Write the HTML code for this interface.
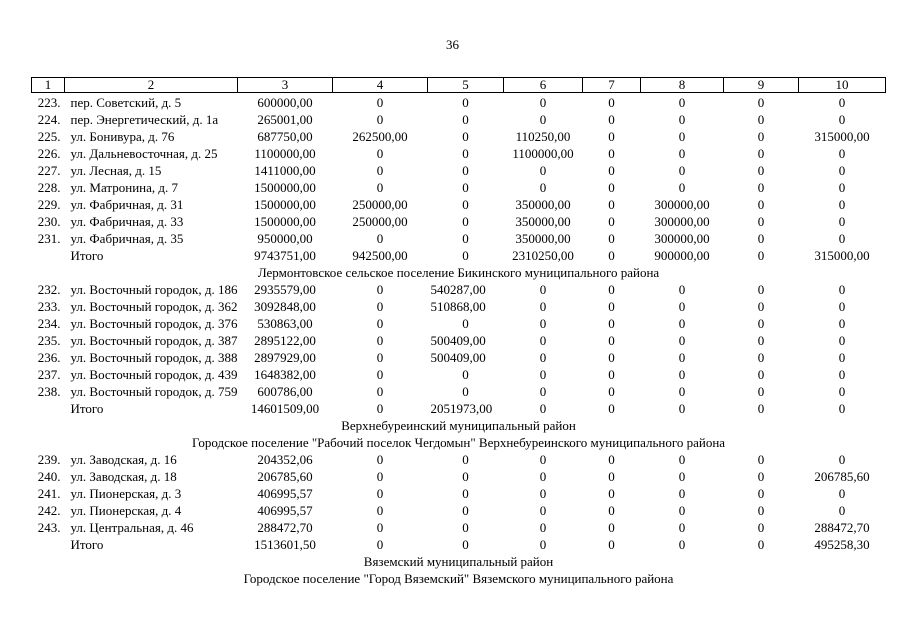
<!DOCTYPE html>
<html><head><meta charset="utf-8"><style>
body{margin:0;background:#fff;width:905px;height:640px;overflow:hidden;font-family:"Liberation Serif",serif;font-size:13px;color:#000}
.pn{position:absolute;left:0;width:905px;top:37px;text-align:center;font-size:13px}
table{position:absolute;left:31px;top:77px;border-collapse:collapse;table-layout:fixed}
td{padding:0;text-align:center;white-space:nowrap;height:17px;line-height:17px}
tr.h td{border:1px solid #000;height:14px;line-height:14px}
tr:nth-child(2) td{padding-top:1px}
td.n{text-align:right;padding-right:4px}
td.a{text-align:left;padding-left:6px}
td.c5{text-align:left;padding-left:3px}
</style></head><body>
<div class="pn">36</div>
<table>
<colgroup><col style="width:33px"><col style="width:173px"><col style="width:95px"><col style="width:95px"><col style="width:76px"><col style="width:79px"><col style="width:58px"><col style="width:83px"><col style="width:75px"><col style="width:87px"></colgroup>
<tr class="h"><td>1</td><td>2</td><td>3</td><td>4</td><td>5</td><td>6</td><td>7</td><td>8</td><td>9</td><td>10</td></tr>
<tr><td class="n">223.</td><td class="a">пер. Советский, д. 5</td><td>600000,00</td><td>0</td><td>0</td><td>0</td><td>0</td><td>0</td><td>0</td><td>0</td></tr>
<tr><td class="n">224.</td><td class="a">пер. Энергетический, д. 1а</td><td>265001,00</td><td>0</td><td>0</td><td>0</td><td>0</td><td>0</td><td>0</td><td>0</td></tr>
<tr><td class="n">225.</td><td class="a">ул. Бонивура, д. 76</td><td>687750,00</td><td>262500,00</td><td>0</td><td>110250,00</td><td>0</td><td>0</td><td>0</td><td>315000,00</td></tr>
<tr><td class="n">226.</td><td class="a">ул. Дальневосточная, д. 25</td><td>1100000,00</td><td>0</td><td>0</td><td>1100000,00</td><td>0</td><td>0</td><td>0</td><td>0</td></tr>
<tr><td class="n">227.</td><td class="a">ул. Лесная, д. 15</td><td>1411000,00</td><td>0</td><td>0</td><td>0</td><td>0</td><td>0</td><td>0</td><td>0</td></tr>
<tr><td class="n">228.</td><td class="a">ул. Матронина, д. 7</td><td>1500000,00</td><td>0</td><td>0</td><td>0</td><td>0</td><td>0</td><td>0</td><td>0</td></tr>
<tr><td class="n">229.</td><td class="a">ул. Фабричная, д. 31</td><td>1500000,00</td><td>250000,00</td><td>0</td><td>350000,00</td><td>0</td><td>300000,00</td><td>0</td><td>0</td></tr>
<tr><td class="n">230.</td><td class="a">ул. Фабричная, д. 33</td><td>1500000,00</td><td>250000,00</td><td>0</td><td>350000,00</td><td>0</td><td>300000,00</td><td>0</td><td>0</td></tr>
<tr><td class="n">231.</td><td class="a">ул. Фабричная, д. 35</td><td>950000,00</td><td>0</td><td>0</td><td>350000,00</td><td>0</td><td>300000,00</td><td>0</td><td>0</td></tr>
<tr><td></td><td class="a">Итого</td><td>9743751,00</td><td>942500,00</td><td>0</td><td>2310250,00</td><td>0</td><td>900000,00</td><td>0</td><td>315000,00</td></tr>
<tr><td colspan="10">Лермонтовское сельское поселение Бикинского муниципального района</td></tr>
<tr><td class="n">232.</td><td class="a">ул. Восточный городок, д. 186</td><td>2935579,00</td><td>0</td><td class="c5">540287,00</td><td>0</td><td>0</td><td>0</td><td>0</td><td>0</td></tr>
<tr><td class="n">233.</td><td class="a">ул. Восточный городок, д. 362</td><td>3092848,00</td><td>0</td><td class="c5">510868,00</td><td>0</td><td>0</td><td>0</td><td>0</td><td>0</td></tr>
<tr><td class="n">234.</td><td class="a">ул. Восточный городок, д. 376</td><td>530863,00</td><td>0</td><td>0</td><td>0</td><td>0</td><td>0</td><td>0</td><td>0</td></tr>
<tr><td class="n">235.</td><td class="a">ул. Восточный городок, д. 387</td><td>2895122,00</td><td>0</td><td class="c5">500409,00</td><td>0</td><td>0</td><td>0</td><td>0</td><td>0</td></tr>
<tr><td class="n">236.</td><td class="a">ул. Восточный городок, д. 388</td><td>2897929,00</td><td>0</td><td class="c5">500409,00</td><td>0</td><td>0</td><td>0</td><td>0</td><td>0</td></tr>
<tr><td class="n">237.</td><td class="a">ул. Восточный городок, д. 439</td><td>1648382,00</td><td>0</td><td>0</td><td>0</td><td>0</td><td>0</td><td>0</td><td>0</td></tr>
<tr><td class="n">238.</td><td class="a">ул. Восточный городок, д. 759</td><td>600786,00</td><td>0</td><td>0</td><td>0</td><td>0</td><td>0</td><td>0</td><td>0</td></tr>
<tr><td></td><td class="a">Итого</td><td>14601509,00</td><td>0</td><td class="c5">2051973,00</td><td>0</td><td>0</td><td>0</td><td>0</td><td>0</td></tr>
<tr><td colspan="10">Верхнебуреинский муниципальный район</td></tr>
<tr><td colspan="10">Городское поселение "Рабочий поселок Чегдомын" Верхнебуреинского муниципального района</td></tr>
<tr><td class="n">239.</td><td class="a">ул. Заводская, д. 16</td><td>204352,06</td><td>0</td><td>0</td><td>0</td><td>0</td><td>0</td><td>0</td><td>0</td></tr>
<tr><td class="n">240.</td><td class="a">ул. Заводская, д. 18</td><td>206785,60</td><td>0</td><td>0</td><td>0</td><td>0</td><td>0</td><td>0</td><td>206785,60</td></tr>
<tr><td class="n">241.</td><td class="a">ул. Пионерская, д. 3</td><td>406995,57</td><td>0</td><td>0</td><td>0</td><td>0</td><td>0</td><td>0</td><td>0</td></tr>
<tr><td class="n">242.</td><td class="a">ул. Пионерская, д. 4</td><td>406995,57</td><td>0</td><td>0</td><td>0</td><td>0</td><td>0</td><td>0</td><td>0</td></tr>
<tr><td class="n">243.</td><td class="a">ул. Центральная, д. 46</td><td>288472,70</td><td>0</td><td>0</td><td>0</td><td>0</td><td>0</td><td>0</td><td>288472,70</td></tr>
<tr><td></td><td class="a">Итого</td><td>1513601,50</td><td>0</td><td>0</td><td>0</td><td>0</td><td>0</td><td>0</td><td>495258,30</td></tr>
<tr><td colspan="10">Вяземский муниципальный район</td></tr>
<tr><td colspan="10">Городское поселение "Город Вяземский" Вяземского муниципального района</td></tr>
</table>
</body></html>
